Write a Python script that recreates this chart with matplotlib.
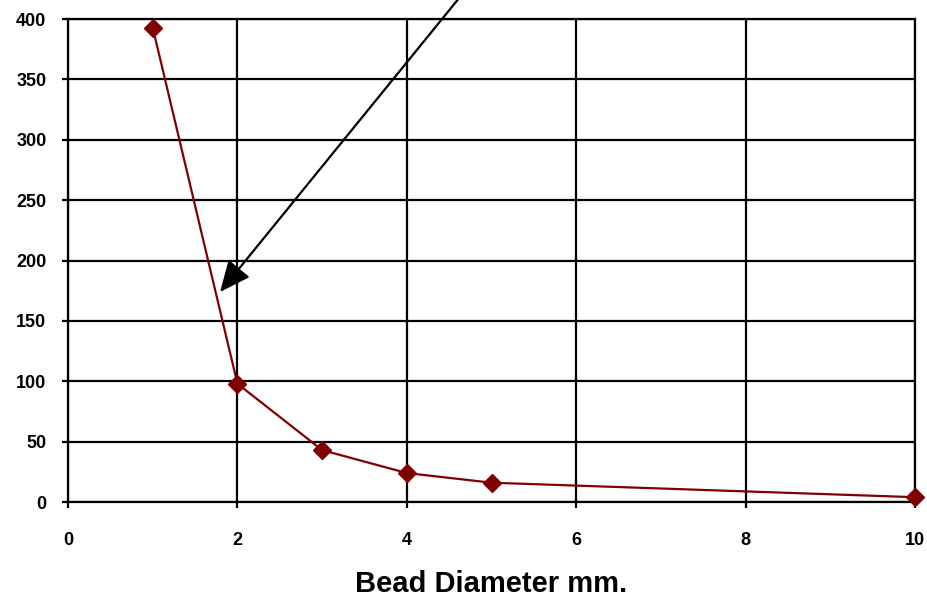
import matplotlib
matplotlib.use("Agg")
import matplotlib.pyplot as plt

# bead diameter (mm) vs value
diameter = [1, 2, 3, 4, 5, 10]
values = [393, 98, 43, 24, 16, 4]

x_ticks = [0, 2, 4, 6, 8, 10]
y_ticks = [0, 50, 100, 150, 200, 250, 300, 350, 400]

plt.rcParams['font.family'] = ['Liberation Sans', 'DejaVu Sans']

fig = plt.figure(figsize=(9.28, 5.98), dpi=100)
ax = fig.add_axes([0.0733, 0.1605, 0.9127, 0.8075])

ax.plot(diameter, values, color='#800000', lw=1.6, marker='D',
        markersize=9.5, markerfacecolor='#800000', markeredgecolor='#800000',
        clip_on=False, zorder=5)

ax.set_xlim(0, 10)
ax.set_ylim(0, 400)
ax.set_xticks(x_ticks)
ax.set_yticks(y_ticks)
ax.grid(True, color='black', lw=1.6)
ax.set_axisbelow(True)
for s in ax.spines.values():
    s.set_color('black')
    s.set_linewidth(1.6)

ax.tick_params(direction='out', length=4.5, width=1.6)
ax.tick_params(axis='x', pad=17)
ax.tick_params(axis='y', pad=11)
for lab in ax.get_xticklabels() + ax.get_yticklabels():
    lab.set_fontsize(13)
    lab.set_fontweight('bold')

ax.set_xlabel('Bead Diameter mm.', fontsize=21, fontweight='bold', va='baseline')
ax.xaxis.set_label_coords(0.5, -0.187)

# arrow coming in from above the plot
ax.annotate('', xy=(1.795, 174), xytext=(4.67, 422), annotation_clip=False,
            arrowprops=dict(arrowstyle='-|>,head_length=1.9,head_width=0.85',
                            color='black', lw=1.6, shrinkA=0, shrinkB=0))

fig.savefig('out.png', dpi=100)
